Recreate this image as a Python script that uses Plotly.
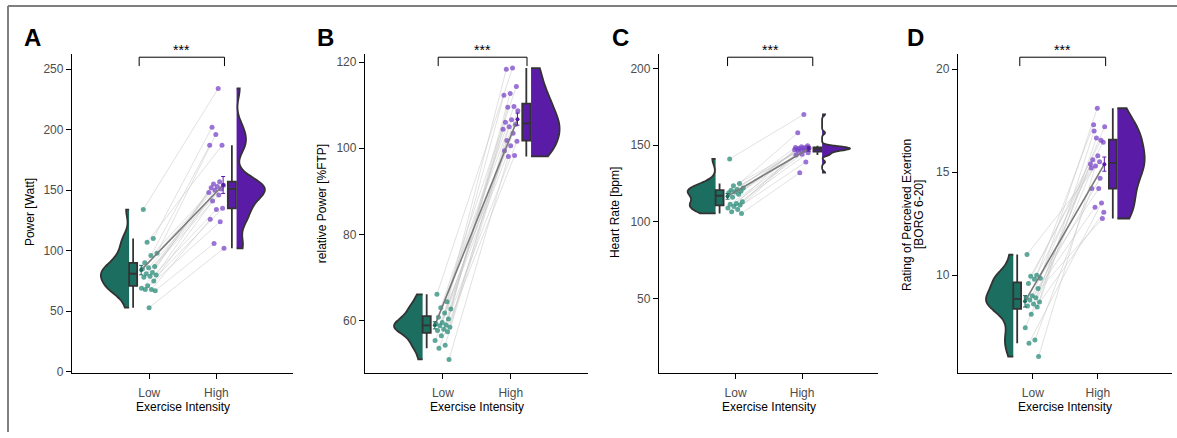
import numpy as np
import plotly.graph_objects as go

# ---------------- data ----------------
categories = ["Low", "High"]
panel_letters = ["A", "B", "C", "D"]
x_title = "Exercise Intensity"
y_titles = [["Power [Watt]"], ["relative Power [%FTP]"], ["Heart Rate [bpm]"],
            ["Rating of Perceived Exertion", "[BORG 6-20]"]]

power_low = [134, 110, 107, 98, 96, 90, 87, 86, 85, 82, 81, 80, 79, 78, 75, 71, 69, 68, 68, 67, 53]
power_high = [234, 202, 187, 196, 187, 157, 155, 154, 153, 152, 151, 150, 148, 146, 141, 135, 134, 126, 124, 106, 102]

relpow_low = [66.1, 64.4, 63.0, 62.7, 61.8, 60.8, 60.4, 59.6, 59.3, 59.0, 58.8, 58.5, 58.0, 57.7, 57.4, 56.5, 55.4, 54.3, 53.6, 51.0]
relpow_high = [118.6, 118.3, 114.3, 112.7, 112.3, 109.7, 109.5, 108.7, 106.6, 106.0, 105.5, 105.0, 104.4, 103.5, 101.8, 101.6, 100.6, 99.4, 98.3, 98.1]

hr_low = [141, 125, 123.5, 122, 121, 120.5, 120, 119.5, 119, 118, 116, 113, 112, 111.5, 111, 110, 109, 108, 106.5, 105.5]
hr_high = [170, 158, 149.5, 149, 148.5, 148.5, 148, 148, 148, 147.5, 147.5, 147, 147, 146.5, 146, 145, 144, 143.5, 139, 132]

rpe_low = [11.0, 10.0, 9.95, 9.85, 9.8, 9.6, 9.35, 9.0, 8.9, 8.9, 8.8, 8.7, 8.6, 8.5, 8.45, 8.1, 7.45, 6.85, 6.7, 6.05]
rpe_high = [15.5, 17.3, 16.45, 18.1, 15.2, 16.55, 13.3, 17.2, 14.2, 15.6, 12.75, 16.65, 15.4, 14.7, 17.0, 13.05, 15.8, 14.2, 13.5, 15.3]

power_ticks = [0, 50, 100, 150, 200, 250]
relpow_ticks = [60, 80, 100, 120]
hr_ticks = [50, 100, 150, 200]
rpe_ticks = [10, 15, 20]

# ---------------- styling / layout ----------------
W, H = 1177, 438
TEAL = "#1b6e60"
PURPLE = "#5a1ca6"
TEAL_PT = "rgba(42,140,122,0.75)"
PURPLE_PT = "rgba(122,69,200,0.75)"
OUTLINE = "#333333"
FONT = "Liberation Sans, Arial, sans-serif"
FS = 12

def fx(p):
    return p / W

def fy(p):
    return 1 - p / H

Y_TOP, Y_BOT = 55, 378

panels = [
    dict(low=power_low, high=power_high, ticks=power_ticks, yr=[-0.8, 262.2], dom=[72, 293],
         br=[0.85, 2.12], tx=[30], ty=215, lx=22),
    dict(low=relpow_low, high=relpow_high, ticks=relpow_ticks, yr=[47.9, 121.8], dom=[365, 588],
         br=[0.93, 2.24], tx=[322], ty=207, lx=315),
    dict(low=hr_low, high=hr_high, ticks=hr_ticks, yr=[1.6, 209.2], dom=[659, 878],
         br=[0.88, 2.16], tx=[615], ty=216, lx=610),
    dict(low=rpe_low, high=rpe_high, ticks=rpe_ticks, yr=[5.26, 20.72], dom=[958, 1172],
         br=[0.80, 2.12], tx=[907, 919], ty=218, lx=905),
]


def nrd0(x):
    x = np.asarray(x, float)
    sd = np.std(x, ddof=1)
    q75, q25 = np.percentile(x, [75, 25])
    lo = min(sd, (q75 - q25) / 1.34)
    if lo <= 0:
        lo = sd
    return 0.9 * lo * len(x) ** (-0.2)


def box_stats(x):
    x = np.asarray(x, float)
    q1, med, q3 = np.percentile(x, [25, 50, 75])
    iqr = q3 - q1
    lf = x[x >= q1 - 1.5 * iqr].min()
    uf = x[x <= q3 + 1.5 * iqr].max()
    return q1, med, q3, lf, uf


def jitter(n, phase):
    i = np.arange(n)
    return 0.24 * (((i * 0.6180339887 + phase) % 1.0) - 0.5)


fig = go.Figure()
annotations = []
shapes = []

for k, p in enumerate(panels, start=1):
    xa = "x" if k == 1 else f"x{k}"
    ya = "y" if k == 1 else f"y{k}"
    low = np.asarray(p["low"], float)
    high = np.asarray(p["high"], float)
    n = len(low)
    xl = 1 + jitter(n, 0.13)
    xh = 2 + jitter(n, 0.61)

    # paired connecting lines
    lx, ly = [], []
    for i in range(n):
        lx += [xl[i], xh[i], None]
        ly += [low[i], high[i], None]
    fig.add_trace(go.Scatter(x=lx, y=ly, mode="lines", xaxis=xa, yaxis=ya,
                             line=dict(color="rgba(200,200,200,0.55)", width=1),
                             hoverinfo="skip", showlegend=False))

    # half violins
    for data, pos, side, col in [(low, 0.70, "negative", TEAL), (high, 2.30, "positive", PURPLE)]:
        fig.add_trace(go.Violin(y=data, x0=pos, orientation="v", side=side, width=0.84,
                                bandwidth=nrd0(data), spanmode="hard", scalemode="width",
                                points=False, fillcolor=col, opacity=1,
                                line=dict(color=OUTLINE, width=1.8),
                                box_visible=False, meanline_visible=False,
                                xaxis=xa, yaxis=ya, hoverinfo="skip", showlegend=False))

    # boxes
    for data, pos, col in [(low, 0.76, TEAL), (high, 2.23, PURPLE)]:
        q1, med, q3, lf, uf = box_stats(data)
        fig.add_trace(go.Box(x=[pos], q1=[q1], median=[med], q3=[q3], lowerfence=[lf],
                             upperfence=[uf], width=0.12, whiskerwidth=0, boxpoints=False,
                             fillcolor=col, line=dict(color=OUTLINE, width=1.8),
                             xaxis=xa, yaxis=ya, hoverinfo="skip", showlegend=False))

    # raw points
    fig.add_trace(go.Scatter(x=xl, y=low, mode="markers", xaxis=xa, yaxis=ya,
                             marker=dict(color=TEAL_PT, size=5), hoverinfo="skip", showlegend=False))
    fig.add_trace(go.Scatter(x=xh, y=high, mode="markers", xaxis=xa, yaxis=ya,
                             marker=dict(color=PURPLE_PT, size=5), hoverinfo="skip", showlegend=False))

    # mean line with SE
    m = [low.mean(), high.mean()]
    se = [low.std(ddof=1) / np.sqrt(n), high.std(ddof=1) / np.sqrt(n)]
    mx = [0.88, 2.10]
    fig.add_trace(go.Scatter(x=mx, y=m, mode="lines", xaxis=xa, yaxis=ya,
                             line=dict(color="#7a7a7a", width=1.6), hoverinfo="skip", showlegend=False))
    for j, col in enumerate([TEAL, PURPLE]):
        fig.add_trace(go.Scatter(x=[mx[j]], y=[m[j]], mode="markers", xaxis=xa, yaxis=ya,
                                 marker=dict(color=col, size=4),
                                 error_y=dict(type="data", array=[se[j]], color=col, thickness=1, width=2),
                                 hoverinfo="skip", showlegend=False))

    # axes
    xdom = [fx(p["dom"][0]), fx(p["dom"][1])]
    ydom = [fy(Y_BOT), fy(Y_TOP)]
    axis_common = dict(showline=True, linecolor="black", linewidth=1.3, ticks="outside",
                       ticklen=5, tickwidth=1.2, tickcolor="black", showgrid=False, zeroline=False,
                       tickfont=dict(family=FONT, size=FS, color="#4d4d4d"), fixedrange=True)
    fig.update_layout(**{
        ("xaxis" if k == 1 else f"xaxis{k}"): dict(domain=xdom, range=[-0.15, 3.14], tickmode="array",
                                                   tickvals=[1, 2], ticktext=categories, anchor=ya,
                                                   ticklabelstandoff=4, **axis_common),
        ("yaxis" if k == 1 else f"yaxis{k}"): dict(domain=ydom, range=p["yr"], tickmode="array",
                                                   tickvals=p["ticks"], anchor=xa, **axis_common),
    })

    # titles
    annotations.append(dict(text=x_title, x=1.5, xref=xa, y=fy(413), yref="paper",
                            showarrow=False, xanchor="center", yanchor="middle",
                            font=dict(family=FONT, size=FS, color="black")))
    for t, tx in zip(y_titles[k - 1], p["tx"]):
        annotations.append(dict(text=t, x=fx(tx), y=fy(p["ty"]), xref="paper", yref="paper",
                                textangle=-90, showarrow=False, xanchor="center", yanchor="middle",
                                font=dict(family=FONT, size=FS, color="black")))
    annotations.append(dict(text="<b>" + panel_letters[k - 1] + "</b>", x=fx(p["lx"]), y=fy(38),
                            xref="paper", yref="paper", showarrow=False, xanchor="left",
                            yanchor="middle", font=dict(family=FONT, size=24, color="black")))

    # significance bracket
    b0, b1 = p["br"]
    for (x0, y0, x1, y1) in [(b0, 58, b1, 58), (b0, 58, b0, 67), (b1, 58, b1, 67)]:
        shapes.append(dict(type="line", xref=xa, yref="paper", x0=x0, x1=x1, y0=fy(y0), y1=fy(y1),
                           line=dict(color="black", width=1)))
    annotations.append(dict(text="***", x=(b0 + b1) / 2, xref=xa, y=fy(51), yref="paper",
                            showarrow=False, xanchor="center", yanchor="middle",
                            font=dict(family=FONT, size=14, color="black")))

# figure frame (top and left edges)
shapes.append(dict(type="line", xref="paper", yref="paper", x0=fx(8), x1=1, y0=fy(6), y1=fy(6),
                   line=dict(color="#7f7f7f", width=2)))
shapes.append(dict(type="line", xref="paper", yref="paper", x0=fx(8), x1=fx(8), y0=fy(6), y1=0,
                   line=dict(color="#7f7f7f", width=2)))

fig.update_layout(width=W, height=H, margin=dict(l=0, r=0, t=0, b=0),
                  paper_bgcolor="white", plot_bgcolor="white",
                  violinmode="overlay", boxmode="overlay", violingap=0, boxgap=0,
                  showlegend=False, annotations=annotations, shapes=shapes,
                  font=dict(family=FONT))

fig.write_html("out.html", config={"displayModeBar": False})
